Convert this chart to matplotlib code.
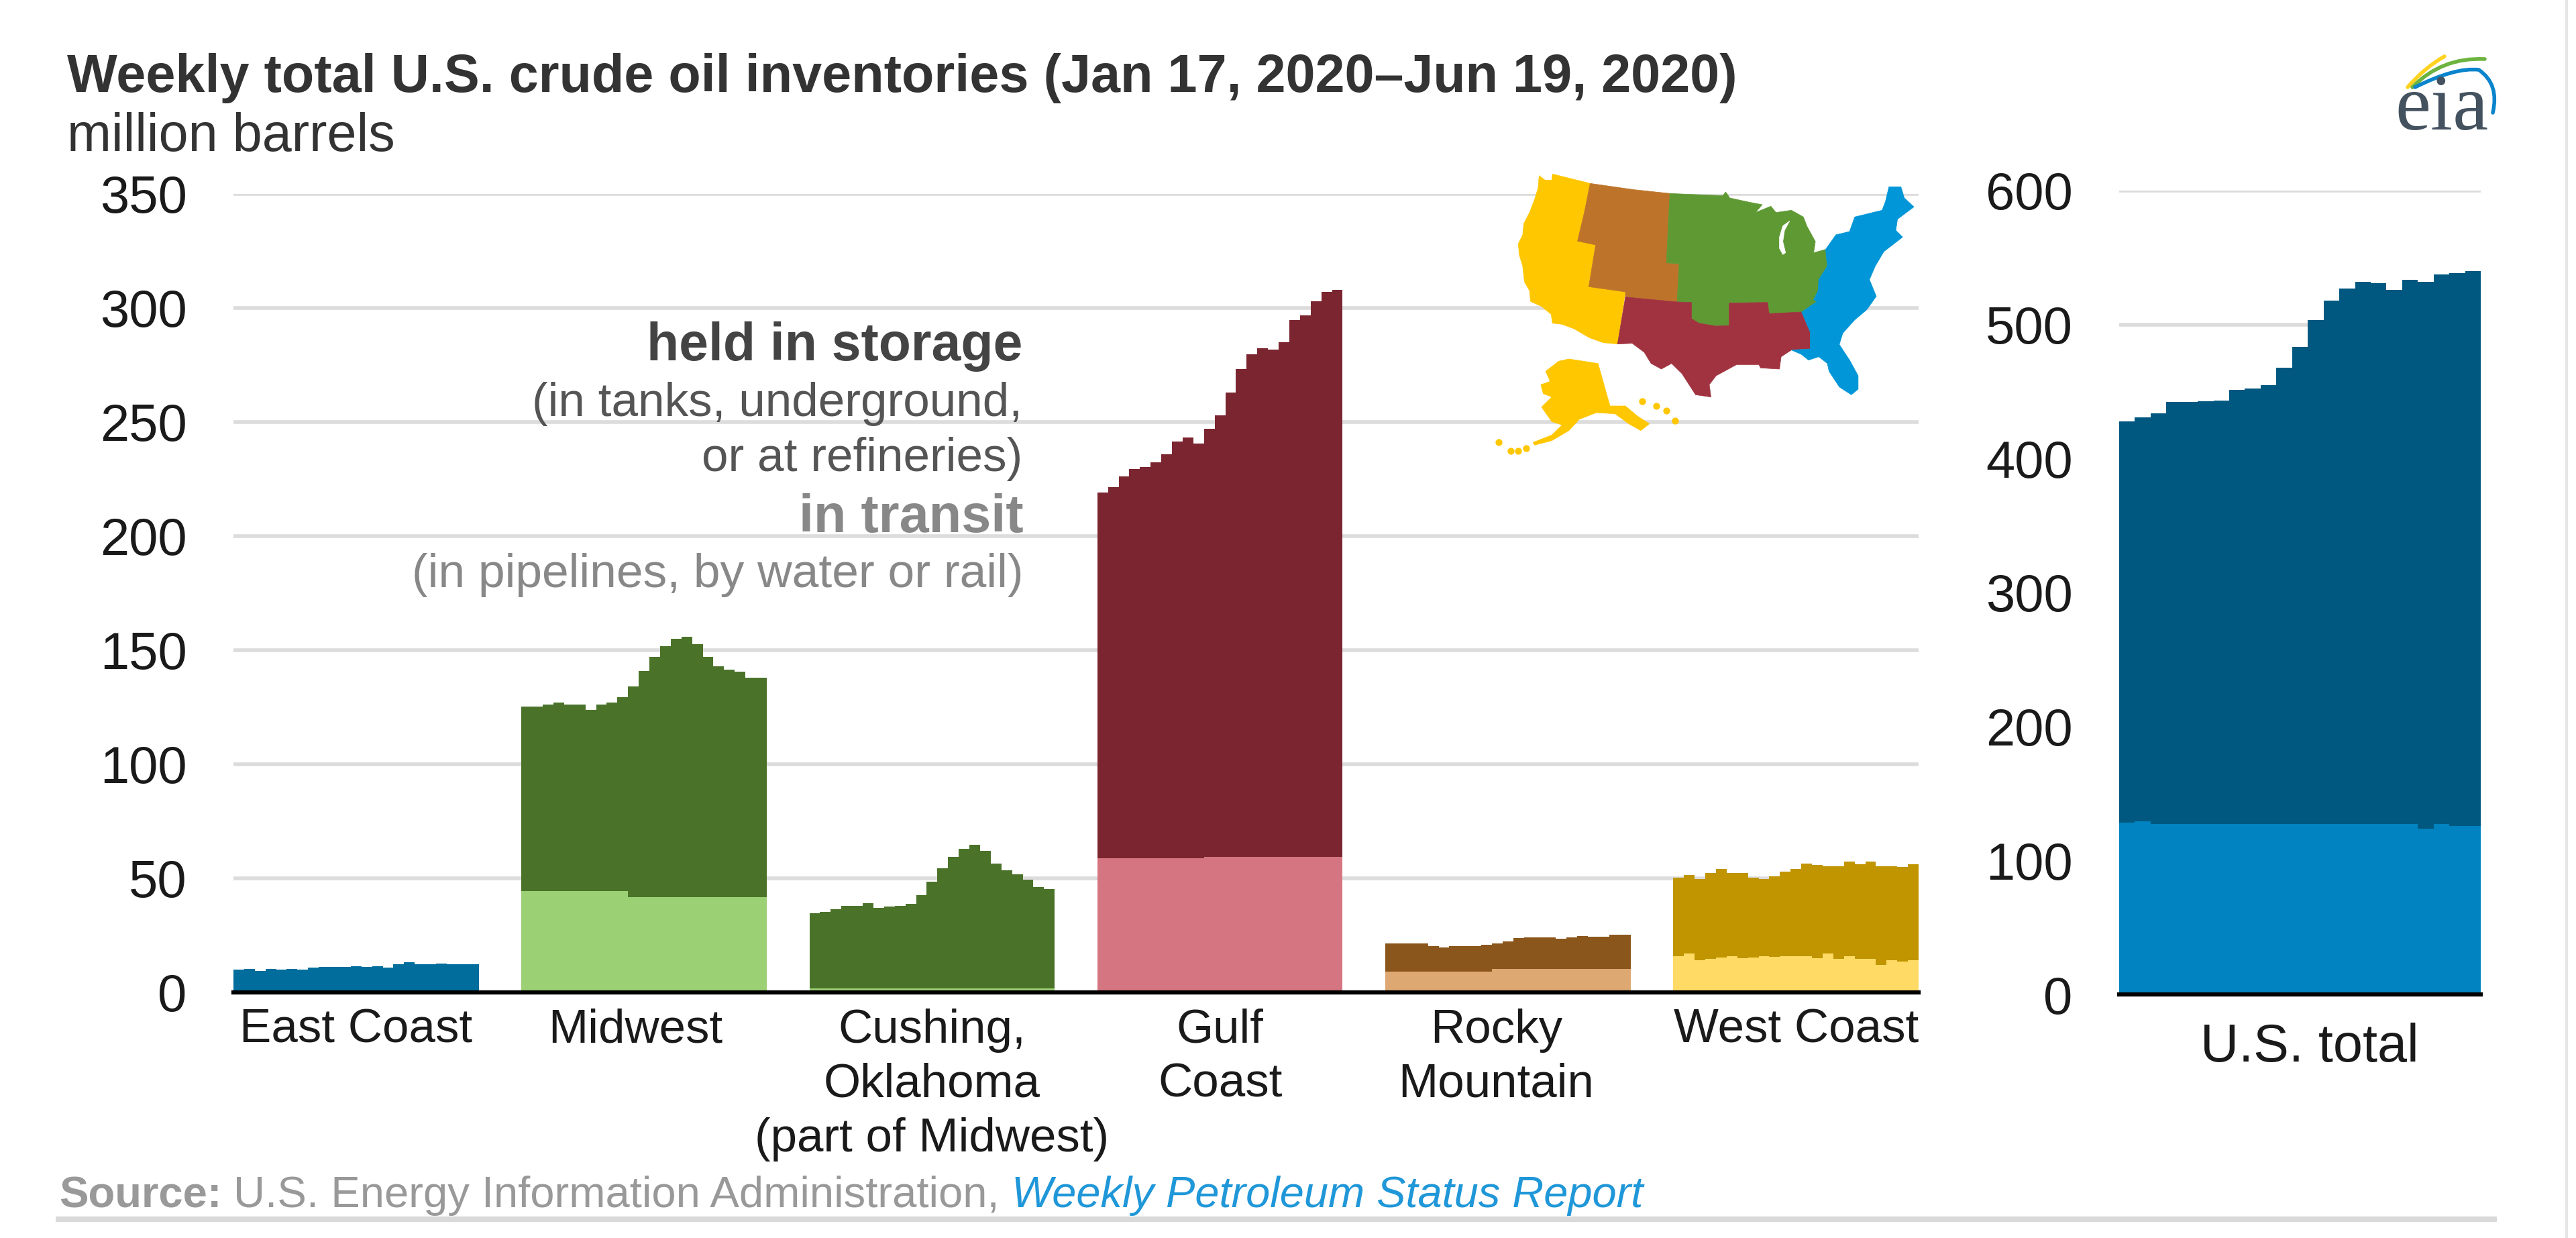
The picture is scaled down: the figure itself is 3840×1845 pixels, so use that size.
#!/usr/bin/env python3
"""Weekly total U.S. crude oil inventories by region, Jan 17 - Jun 19 2020."""
import matplotlib
matplotlib.use('Agg')
import matplotlib.pyplot as plt
import numpy as np
from matplotlib.patches import PathPatch, Polygon
from matplotlib.path import Path

plt.rcParams['font.family'] = ['Liberation Sans', 'DejaVu Sans']

W, H = 3840, 1845

# weekly values, million barrels: stack top and the in-transit part below it
regions = ['East Coast', 'Midwest', 'Cushing,\nOklahoma\n(part of Midwest)',
           'Gulf\nCoast', 'Rocky\nMountain', 'West Coast']
east_top = [9.9, 10.2, 9.3, 10.2, 9.9, 10.2, 9.9, 10.9, 11.2, 11.2, 11.2, 11.5,
            11.2, 11.5, 10.9, 12.5, 13.1, 12.5, 12.5, 12.7, 12.5, 12.5, 12.5]
east_transit = [0.0] * 23
midwest_top = [125.4, 125.4, 126.3, 127.2, 126.3, 126.3, 123.8, 126.3, 127.2, 129.3,
               134, 141, 147, 151.8, 155, 156, 152.7, 147, 143, 141.6, 140.7, 137.8, 137.8]
midwest_transit = [44.3] * 10 + [41.9] * 13
cushing_top = [34.6, 35.3, 36.5, 38, 38, 39, 37, 37.7, 38, 38.7, 42.6, 48.5,
               54.4, 59.3, 63, 64.7, 62, 56.6, 53.4, 51.7, 49.3, 46.3, 45.4]
cushing_transit = [1.8] * 23
gulf_top = [219, 221.4, 226.2, 229.3, 230.3, 232.4, 235.9, 241.6, 243.3, 240.6, 247.2, 253,
            262.9, 273.2, 279.8, 282.5, 281.9, 285, 294.6, 296.7, 303, 307.2, 308]
gulf_transit = [58.8] * 10 + [59.4] * 13
rocky_top = [21.6, 21.6, 21.6, 21.6, 20.3, 19.6, 20.3, 20.3, 20.3, 20.8, 21.6, 22.5,
             23.7, 24.2, 24.2, 24.2, 23.5, 24, 24.8, 24.3, 24.3, 25.3, 25.3]
rocky_transit = [9.1] * 10 + [10.3] * 13
west_top = [50.3, 51.5, 49.7, 52.5, 54, 52.5, 52.5, 50.3, 49.8, 51, 52.8, 54,
            56.4, 56, 55.4, 55.4, 57.4, 56.1, 57.4, 55.4, 55.4, 55, 56.1]
west_transit = [15.8, 17, 14.2, 14.6, 15.3, 15.8, 14.9, 15.3, 15.8, 15.6, 16, 16,
                16, 14.9, 17, 14.6, 15.8, 14.7, 14.7, 12.2, 14.2, 13.4, 14.2]
us_top = [427.5, 430.8, 433.8, 442.2, 442.2, 442.5, 443, 451.3, 452.5, 454.7, 468, 483.5,
          503.3, 518, 526.7, 531.7, 531, 526, 533.5, 531.7, 537.2, 538.3, 540]
us_transit = [128, 129.4, 127.4, 127.4, 127.4, 127.4, 127.4, 127.4, 127.4, 127.4, 127.4, 127.4,
              127.4, 127.4, 127.4, 127.4, 127.4, 127.4, 127.4, 123.6, 127.4, 125.6, 125.6]
left_ticks = [0, 50, 100, 150, 200, 250, 300, 350]
right_ticks = [0, 100, 200, 300, 400, 500, 600]

panel_tops = [east_top, midwest_top, cushing_top, gulf_top, rocky_top, west_top]
panel_transit = [east_transit, midwest_transit, cushing_transit, gulf_transit,
                 rocky_transit, west_transit]
dark_colors = ['#006d9c', '#4a7329', '#4a7329', '#7a2530', '#8b561c', '#c09500']
light_colors = ['#006d9c', '#9bd174', '#9bd174', '#d57582', '#dea873', '#ffdb66']

WEEKS = 23
SLOT = 27  # 23 weeks plus a gap of 4


def draw_stack(ax, start, top, transit, dark, light):
    """Stepped area for one region, one step per week."""
    x = np.arange(WEEKS + 1) + start
    top = np.append(top, top[-1])
    transit = np.append(transit, transit[-1])
    ax.fill_between(x, transit, top, step='post', color=dark, lw=0, zorder=3)
    ax.fill_between(x, 0, transit, step='post', color=light, lw=0, zorder=3)


def style_axis(ax, ticks):
    ax.set_yticks(ticks)
    ax.grid(axis='y', color='#dcdcdc', lw=4)
    ax.set_axisbelow(True)
    for side in ['top', 'left', 'right']:
        ax.spines[side].set_visible(False)
    ax.spines['bottom'].set_linewidth(4.5)
    ax.spines['bottom'].set_color('black')
    ax.spines['bottom'].set_zorder(5)
    ax.tick_params(axis='both', length=0)
    ax.tick_params(axis='y', labelsize=56, pad=50, labelcolor='#1a1a1a')
    ax.tick_params(axis='x', labelsize=51, pad=17, labelcolor='#1a1a1a')


def axes_px(fig, x0, x1, y_top, y_base):
    return fig.add_axes([x0 / W, 1 - y_base / H, (x1 - x0) / W, (y_base - y_top) / H])


fig = plt.figure(figsize=(W / 100, H / 100), dpi=100, facecolor='white')

# regional panels
ax = axes_px(fig, 348, 2860, 289, 1479)
for i in range(len(regions)):
    draw_stack(ax, i * SLOT, panel_tops[i], panel_transit[i], dark_colors[i], light_colors[i])
ax.set_xlim(0, 5 * SLOT + WEEKS)
ax.set_ylim(0, 350)
style_axis(ax, left_ticks)
label_shift = [0, -0.8, 0, 0, -1.1, 0]
ax.set_xticks([i * SLOT + WEEKS / 2 + label_shift[i] for i in range(len(regions))])
ax.set_xticklabels(regions, linespacing=1.3)

# U.S. total panel
ax2 = axes_px(fig, 3159, 3698, 284, 1482)
draw_stack(ax2, 0, us_top, us_transit, '#005880', '#0083c0')
ax2.set_xlim(0, WEEKS)
ax2.set_ylim(0, 600)
style_axis(ax2, right_ticks)
ax2.set_xticks([WEEKS / 2 + 0.6])
ax2.set_xticklabels(['U.S. total'], fontsize=57)
ax2.tick_params(axis='x', pad=30)

# overlay in image pixels for the texts, map and logo
ov = fig.add_axes([0, 0, 1, 1], zorder=10)
ov.set_xlim(0, W)
ov.set_ylim(H, 0)
ov.axis('off')
ov.patch.set_alpha(0)

ov.text(100, 117, 'Weekly total U.S. crude oil inventories (Jan 17, 2020\u2013Jun 19, 2020)',
        fontsize=57, fontweight='bold', color='#333333', va='center')
ov.text(100, 205, 'million barrels', fontsize=57, color='#333333', va='center')

ov.text(1524, 517, 'held in storage', fontsize=56.7, fontweight='bold', color='#444444',
        ha='right', va='center')
ov.text(1524, 602, '(in tanks, underground,', fontsize=51.2, color='#555555', ha='right', va='center')
ov.text(1524, 684, 'or at refineries)', fontsize=51.2, color='#555555', ha='right', va='center')
ov.text(1526, 772, 'in transit', fontsize=57, fontweight='bold', color='#888888',
        ha='right', va='center')
ov.text(1526, 857, '(in pipelines, by water or rail)', fontsize=51.4, color='#888888',
        ha='right', va='center')

ov.text(88, 1782, 'Source:', fontsize=47, fontweight='bold', color='#999999', va='center')
ov.text(348, 1782, 'U.S. Energy Information Administration,', fontsize=47, color='#999999', va='center')
ov.text(1508, 1782, 'Weekly Petroleum Status Report', fontsize=46.8, style='italic',
        color='#1f97d8', va='center')
ov.plot([83, 3722], [1817, 1817], color='#d9d9d9', lw=6, solid_capstyle='butt')
ov.plot([3826, 3826], [0, H], color='#e6e6e6', lw=3, solid_capstyle='butt')

# map outlines, traced in the coordinates of a 1.96 x 3 enlargement of the map area
west_shape = [(283, 125), (300, 145), (320, 145), (322, 118), (432, 160), (415, 290), (395, 418),
              (448, 435), (428, 622), (535, 645), (512, 878), (470, 872), (430, 850), (385, 810),
              (350, 790), (322, 785), (318, 745), (290, 710), (258, 688), (255, 640), (240, 600),
              (235, 530), (225, 480), (222, 430), (235, 390), (238, 340), (255, 290), (270, 230),
              (280, 180)]
rocky_shape = [(432, 160), (560, 188), (665, 205), (660, 350), (655, 515), (692, 520), (686, 690),
               (535, 668), (535, 645), (428, 622), (448, 435), (395, 418), (415, 290)]
midwest_shape = [(665, 205), (820, 215), (828, 198), (840, 225), (900, 245), (935, 255), (915, 290),
                 (960, 262), (975, 290), (1020, 280), (1055, 310), (1065, 350), (1090, 420),
                 (1085, 470), (1120, 455), (1125, 530), (1100, 590), (1098, 640), (1085, 680),
                 (1095, 688), (1050, 735), (955, 742), (950, 692), (838, 695), (838, 795),
                 (800, 798), (750, 785), (728, 765), (728, 692), (686, 690), (692, 520),
                 (655, 515), (660, 350)]
lake_shape = [(1015, 328), (995, 350), (985, 400), (985, 450), (995, 478), (1003, 470),
              (995, 420), (1000, 370)]
gulf_shape = [(535, 668), (686, 690), (728, 692), (728, 765), (750, 785), (800, 798), (838, 795),
              (838, 695), (950, 692), (955, 742), (1050, 735), (1075, 825), (1075, 900),
              (1020, 905), (990, 935), (985, 990), (930, 985), (925, 970), (860, 970), (800, 1020),
              (780, 1060), (785, 1115), (740, 1105), (700, 1010), (670, 965), (640, 990),
              (610, 965), (590, 915), (555, 875), (512, 878)]
east_shape = [(1305, 175), (1340, 175), (1350, 225), (1378, 265), (1330, 320), (1325, 370),
              (1345, 400), (1290, 465), (1265, 530), (1248, 590), (1268, 665), (1240, 725),
              (1205, 770), (1170, 830), (1160, 880), (1190, 950), (1215, 1020), (1215, 1080),
              (1195, 1105), (1160, 1070), (1130, 1000), (1125, 965), (1100, 935), (1070, 950),
              (1050, 925), (1020, 905), (1075, 900), (1075, 825), (1050, 735), (1095, 688),
              (1085, 680), (1098, 640), (1100, 590), (1125, 530), (1120, 455), (1150, 390),
              (1190, 375), (1205, 310), (1285, 280), (1295, 240)]
alaska_shape = [(340, 955), (370, 945), (455, 965), (490, 1155), (535, 1155), (570, 1200),
                (605, 1235), (580, 1265), (545, 1235), (505, 1190), (450, 1185), (400, 1215),
                (370, 1265), (320, 1310), (270, 1330), (265, 1318), (320, 1285), (350, 1240),
                (320, 1225), (290, 1160), (320, 1115), (295, 1100), (288, 1060), (315, 1045),
                (302, 1000)]
island_spots = [(165, 1318), (200, 1355), (222, 1355), (245, 1345), (585, 1135), (625, 1155),
                (655, 1175), (680, 1220)]


def map_xy(points):
    return [(2150 + px / 1.96, 220 + py / 3) for px, py in points]


for shape, col in [(west_shape, '#ffc700'), (rocky_shape, '#bd742a'), (midwest_shape, '#5f9934'),
                   (gulf_shape, '#a13340'), (east_shape, '#0096d7'), (alaska_shape, '#ffc700'),
                   (lake_shape, 'white')]:
    ov.add_patch(Polygon(map_xy(shape), closed=True, facecolor=col, edgecolor=col, lw=0.5))
spots = np.array(map_xy(island_spots))
ov.scatter(spots[:, 0], spots[:, 1], s=55, color='#ffc700', lw=0)

# logo
ov.text(3640, 193, 'eia', fontsize=86, family='Liberation Serif', color='#44525f',
        ha='center', va='baseline')
arcs = [([(3589, 130), (3615, 100), (3644, 84)], '#ffd21f'),
        ([(3596, 130), (3640, 85), (3704, 88)], '#6cb33f'),
        ([(3600, 130), (3660, 100), (3695, 104), (3726, 125), (3716, 168)], '#0a84cc')]
for pts, col in arcs:
    if len(pts) == 3:
        codes = [Path.MOVETO, Path.CURVE3, Path.CURVE3]
    else:
        codes = [Path.MOVETO, Path.CURVE3, Path.CURVE3, Path.CURVE3, Path.CURVE3]
    ov.add_patch(PathPatch(Path(pts, codes), facecolor='none', edgecolor=col, lw=4, capstyle='round'))

fig.savefig('out.png', dpi=100)
